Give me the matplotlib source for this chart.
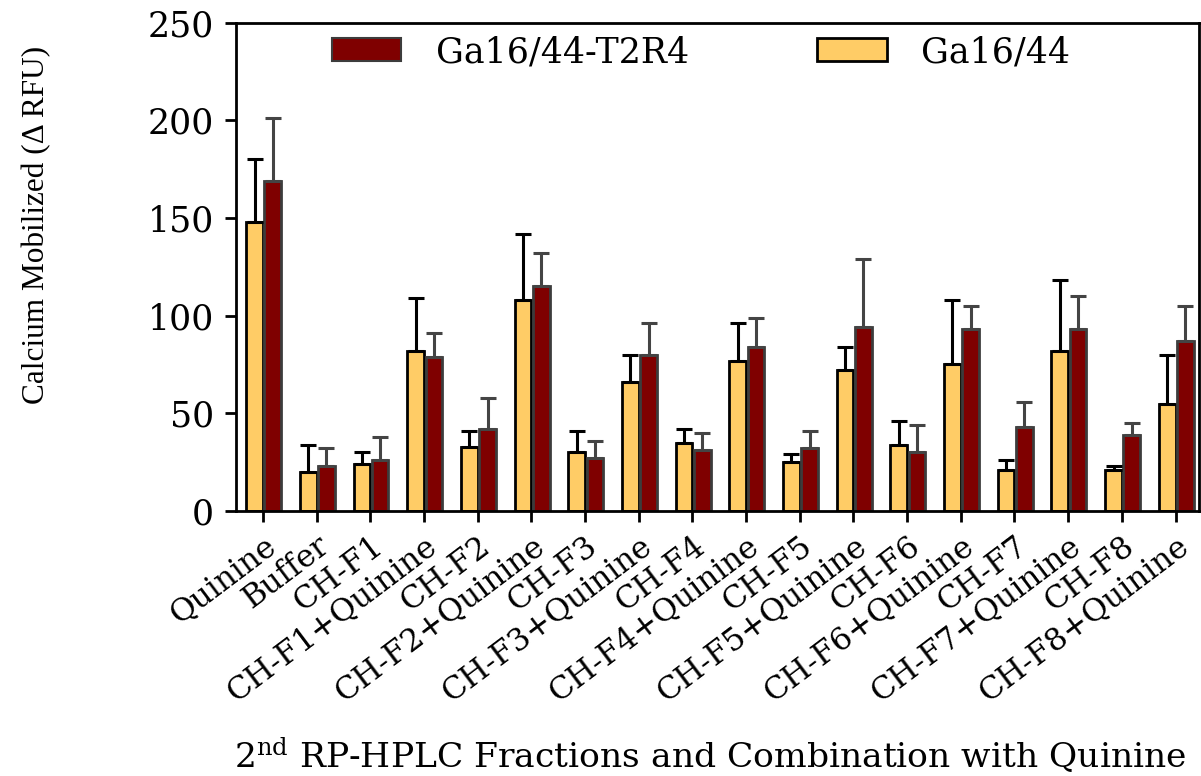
import numpy as np
from matplotlib import pyplot as plt
from matplotlib.patches import Patch

plt.rcParams['font.family'] = ['DejaVu Serif']
plt.rcParams['mathtext.fontset'] = 'dejavuserif'

samples = ['Quinine', 'Buffer', 'CH-F1', 'CH-F1+Quinine', 'CH-F2', 'CH-F2+Quinine',
           'CH-F3', 'CH-F3+Quinine', 'CH-F4', 'CH-F4+Quinine', 'CH-F5', 'CH-F5+Quinine',
           'CH-F6', 'CH-F6+Quinine', 'CH-F7', 'CH-F7+Quinine', 'CH-F8', 'CH-F8+Quinine']
ga = [148, 20, 24, 82, 33, 108, 30, 66, 35, 77, 25, 72, 34, 75, 21, 82, 21, 55]
ga_err = [32, 14, 6, 27, 8, 34, 11, 14, 7, 19, 4, 12, 12, 33, 5, 36, 2, 25]
t2r4 = [169, 23, 26, 79, 42, 115, 27, 80, 31, 84, 32, 94, 30, 93, 43, 93, 39, 87]
t2r4_err = [32, 9, 12, 12, 16, 17, 9, 16, 9, 15, 9, 35, 14, 12, 13, 17, 6, 18]

yellow = '#FFCC66'
maroon = '#7F0000'

fig = plt.figure(figsize=(12.01, 7.76), dpi=100)
ax = fig.add_axes([0.1965, 0.3415, 0.8015, 0.6295])

x = np.arange(len(samples))
w = 0.31
ax.bar(x - 0.155, ga, width=w, color=yellow, edgecolor='black', linewidth=2,
       yerr=[np.zeros(len(ga)), ga_err], error_kw=dict(ecolor='black', elinewidth=2.2,
                                                        capsize=6, capthick=2.2))
ax.bar(x + 0.185, t2r4, width=w, color=maroon, edgecolor='#3c3c3c', linewidth=2,
       yerr=[np.zeros(len(t2r4)), t2r4_err], error_kw=dict(ecolor='#444444', elinewidth=2.2,
                                                          capsize=6, capthick=2.2))

ax.set_xlim(-0.5, 17.43)
ax.set_ylim(0, 250)
ax.set_yticks([0, 50, 100, 150, 200, 250])
ax.set_xticks(x)
ax.set_xticklabels(samples, rotation=37, ha='right', va='top', rotation_mode='anchor', fontsize=22.5)
ax.tick_params(axis='y', labelsize=25, length=8, width=2, pad=8)
ax.tick_params(axis='x', length=8, width=2, pad=6)
for s in ax.spines.values():
    s.set_linewidth(2)

ax.set_ylabel('Calcium Mobilized (Δ RFU)', family='Liberation Serif', fontsize=22.5)
ax.yaxis.set_label_coords(-0.192, 0.585)

fig.text(0.195, 0.026, r'2$^{\mathrm{nd}}$ RP-HPLC Fractions and Combination with Quinine',
         fontsize=24.8, ha='left', va='center')

handles = [Patch(facecolor=maroon, edgecolor='#3c3c3c', linewidth=1.5),
           Patch(facecolor=yellow, edgecolor='black', linewidth=2)]
ax.legend(handles, ['Ga16/44-T2R4', 'Ga16/44'], ncol=2, frameon=False, fontsize=25,
          loc='upper left', bbox_to_anchor=(0.074, 1.024), handlelength=2.0, handleheight=0.65,
          handletextpad=1.0, columnspacing=3.7, borderpad=0.2)

plt.savefig('out.png', dpi=100)
